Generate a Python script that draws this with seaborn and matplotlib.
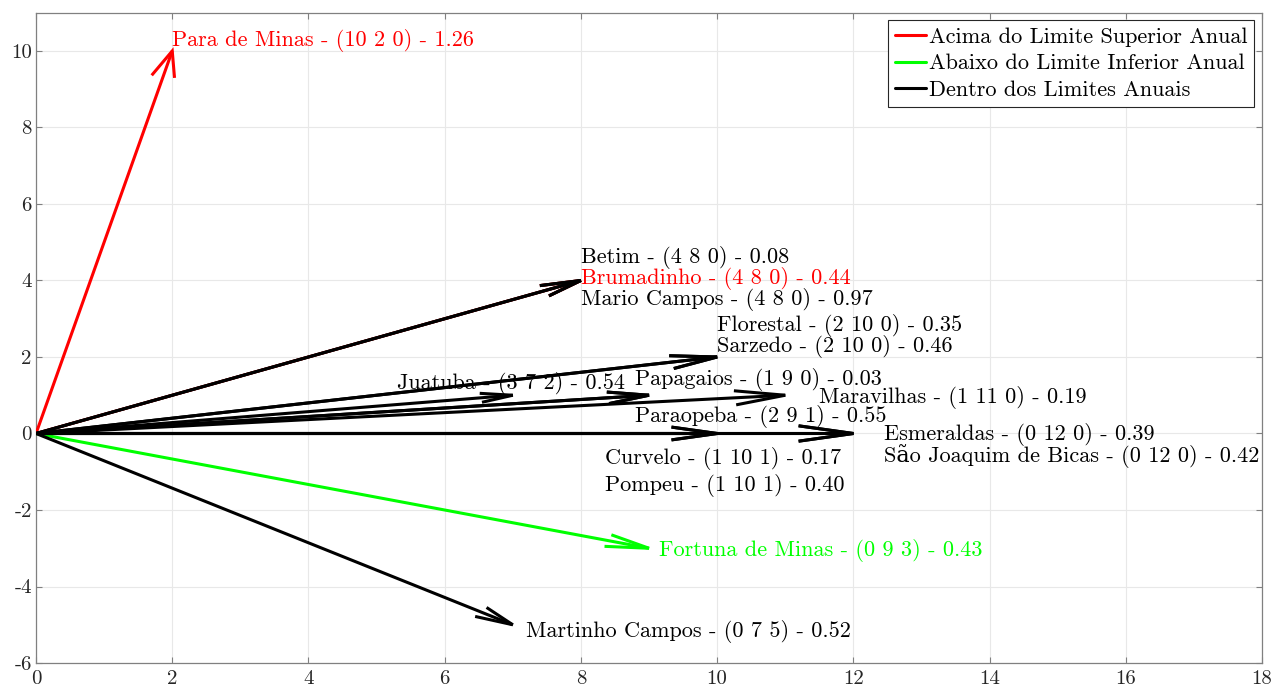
import numpy as np
import matplotlib
matplotlib.use("Agg")
import matplotlib.pyplot as plt
import seaborn as sns
from matplotlib.lines import Line2D

# ---- data ----
names = ["Para de Minas", "Betim", "Brumadinho", "Mario Campos", "Florestal", "Sarzedo",
         "Juatuba", "Papagaios", "Maravilhas", "Paraopeba", "Curvelo", "Pompeu",
         "Esmeraldas", "São Joaquim de Bicas", "Fortuna de Minas", "Martinho Campos"]
counts_a = [10, 4, 4, 4, 2, 2, 3, 1, 1, 2, 1, 1, 0, 0, 0, 0]
counts_b = [2, 8, 8, 8, 10, 10, 7, 9, 11, 9, 10, 10, 12, 12, 9, 7]
counts_c = [0, 0, 0, 0, 0, 0, 2, 0, 0, 1, 1, 1, 0, 0, 3, 5]
index_vals = [1.26, 0.08, 0.44, 0.97, 0.35, 0.46, 0.54, 0.03, 0.19, 0.55, 0.17, 0.40,
              0.39, 0.42, 0.43, 0.52]
status = ["above", "within", "above", "within", "within", "within", "within", "within",
          "within", "within", "within", "within", "within", "within", "below", "within"]

# label placement (data units)
label_x = [2.0, 8.0, 8.0, 8.0, 10.0, 10.0, 5.3, 8.8, 11.5, 8.8, 8.35, 8.35, 12.45, 12.45, 9.15, 7.2]
label_y = [10.27, 4.6, 4.05, 3.5, 2.82, 2.27, 1.31, 1.41, 0.94, 0.44, -0.65, -1.36, -0.03, -0.6, -3.06, -5.18]

colors = {"above": "#ff0000", "below": "#00ff00", "within": "#000000"}
legend_labels = {"above": "Acima do Limite Superior Anual",
                 "below": "Abaixo do Limite Inferior Anual",
                 "within": "Dentro dos Limites Anuais"}

sns.set_theme(style="whitegrid")
plt.rcParams["font.family"] = ["cmr10", "DejaVu Serif"]
plt.rcParams["axes.unicode_minus"] = False
plt.rcParams["mathtext.fontset"] = "cm"
plt.rcParams["text.color"] = "black"

fig = plt.figure(figsize=(12.82, 6.91), dpi=100)
ax = fig.add_axes([0.0281, 0.0405, 0.9563, 0.9411])
ax.set_xlim(0, 18)
ax.set_ylim(-6, 11)
ax.set_xticks(np.arange(0, 19, 2))
ax.set_yticks(np.arange(-6, 11, 2))
ax.set_facecolor("white")
ax.grid(True, color="#e8e8e8", linewidth=0.8)
for s in ax.spines.values():
    s.set_color("#808080")
    s.set_linewidth(0.9)
ax.tick_params(axis="both", which="both", direction="in", length=4, width=0.8,
               color="#808080", labelsize=15, labelcolor="#262626",
               top=True, right=True, bottom=True, left=True, pad=3)
ax.tick_params(axis="x", pad=5)

u = np.array(counts_b, dtype=float)
v = np.array(counts_a, dtype=float) - np.array(counts_c, dtype=float)

alpha, beta = 0.067, 0.25  # quiver-style head geometry (fraction of vector)
order = sorted(range(len(names)), key=lambda i: 0 if status[i] != "within" else 1)
for i in order:
    c = colors[status[i]]
    z = 3 if status[i] != "within" else 4
    ax.plot([0, u[i]], [0, v[i]], color=c, lw=2.2, solid_capstyle="butt", zorder=z)
    hx = [u[i] - alpha * (u[i] + beta * v[i]), u[i], u[i] - alpha * (u[i] - beta * v[i])]
    hy = [v[i] - alpha * (v[i] - beta * u[i]), v[i], v[i] - alpha * (v[i] + beta * u[i])]
    ax.plot(hx, hy, color=c, lw=2.2, solid_joinstyle="miter", solid_capstyle="butt", zorder=z)

for i in range(len(names)):
    c = colors[status[i]]
    ax.text(label_x[i], label_y[i],
            f"{names[i]} - ({counts_a[i]} {counts_b[i]} {counts_c[i]}) - {index_vals[i]:.2f}",
            color=c, fontsize=16, ha="left", va="center", zorder=5)

handles = [Line2D([0], [0], color=colors[k], lw=2.2) for k in ["above", "below", "within"]]
leg = ax.legend(handles, [legend_labels[k] for k in ["above", "below", "within"]],
                loc="upper right", fontsize=16, frameon=True, fancybox=False,
                handlelength=1.4, handletextpad=0.15, borderpad=0.3, labelspacing=0.32,
                borderaxespad=0.35, labelcolor="black")
leg.get_frame().set_edgecolor("#262626")
leg.get_frame().set_linewidth(0.8)
leg.get_frame().set_alpha(1)

fig.savefig("out.png", dpi=100)
